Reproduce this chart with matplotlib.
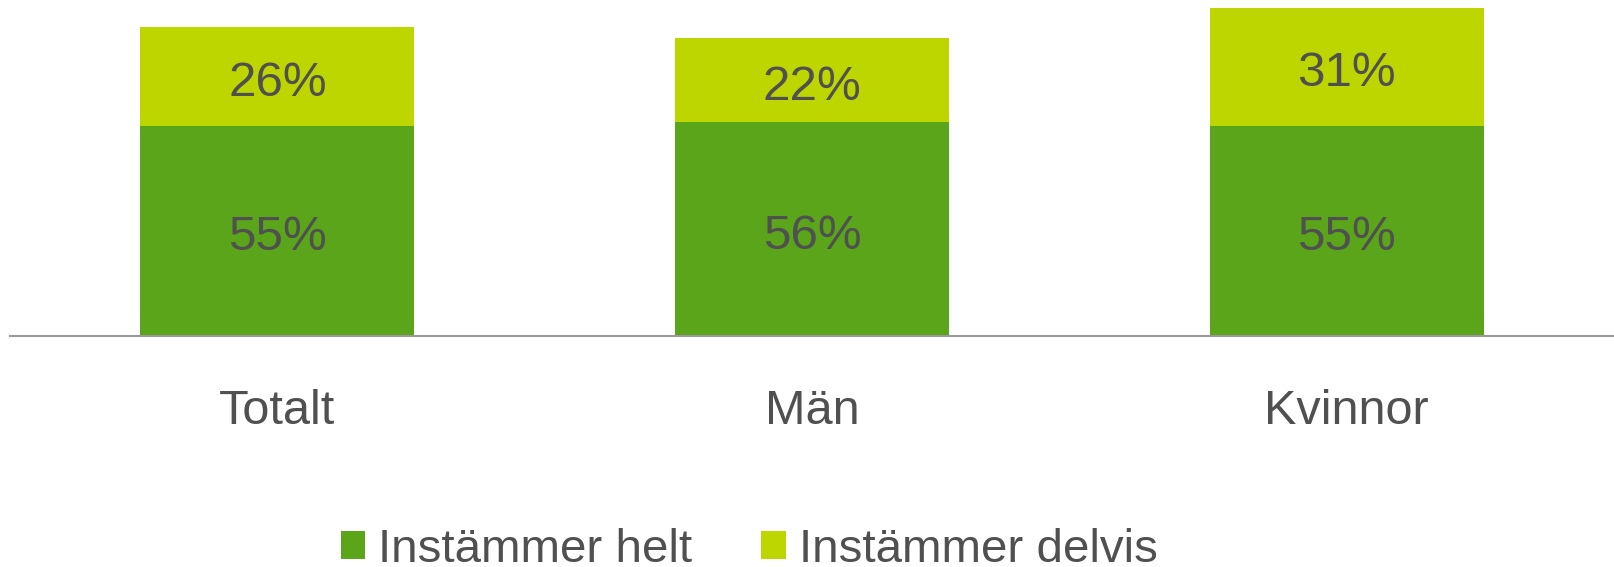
import matplotlib
matplotlib.use("Agg")
import matplotlib.pyplot as plt

categories = ["Totalt", "Män", "Kvinnor"]
helt = [55, 56, 55]
delvis = [26, 22, 31]
series_names = ["Instämmer helt", "Instämmer delvis"]

dark_green = "#5AA519"
light_green = "#BED600"
text_color = "#505050"

plt.rcParams['font.family'] = ['Liberation Sans', 'DejaVu Sans']

fig = plt.figure(figsize=(16.14, 5.67), dpi=100)
ax = fig.add_axes([10 / 1614, 1 - 336 / 567, 1 - 10 / 1614, 336 / 567])

x = list(range(len(categories)))
b1 = ax.bar(x, helt, width=0.512, color=dark_green, label=series_names[0])
b2 = ax.bar(x, delvis, width=0.512, bottom=helt, color=light_green, label=series_names[1])

# value labels, nudged down a little so the digits sit in the middle of the segment
for i in x:
    ax.annotate(f"{helt[i]}%", (i, helt[i] / 2), xytext=(0, -5), textcoords='offset points',
                ha='center', va='center', fontsize=35.5, color=text_color)
    ax.annotate(f"{delvis[i]}%", (i, helt[i] + delvis[i] / 2), xytext=(0, -5),
                textcoords='offset points', ha='center', va='center',
                fontsize=35.5, color=text_color)

ax.set_xlim(-0.5, 2.5)
ax.set_ylim(0, 88)
ax.set_xticks(x)
ax.set_xticklabels(categories, fontsize=35, color=text_color)
ax.tick_params(axis='x', length=0, pad=38)
ax.set_yticks([])
for side in ['top', 'right', 'left']:
    ax.spines[side].set_visible(False)
ax.spines['bottom'].set_color("#999999")
ax.spines['bottom'].set_linewidth(1.5)

fig.legend(handles=[b1, b2], labels=series_names, loc='center',
           bbox_to_anchor=(749 / 1614, 1 - 550 / 567), ncol=2, frameon=False,
           fontsize=34.2, handlelength=0.52, handleheight=0.52,
           handletextpad=0.27, columnspacing=1.45, labelcolor=text_color,
           borderpad=0, borderaxespad=0)

fig.savefig("out.png", dpi=100)
